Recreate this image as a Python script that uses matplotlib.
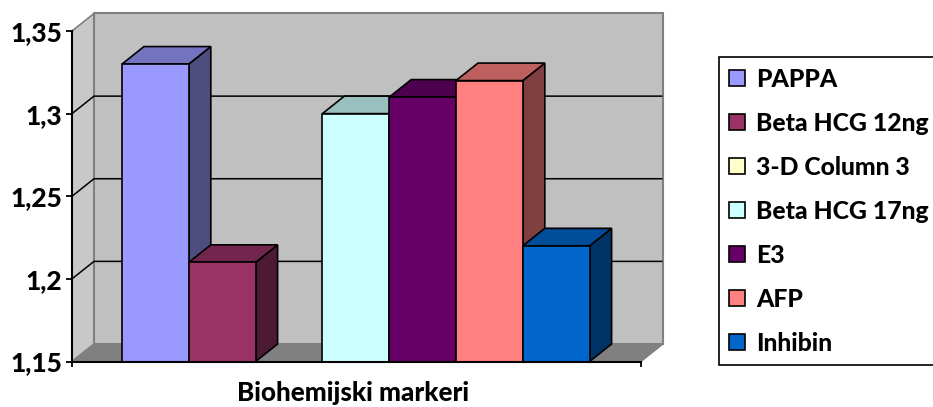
import matplotlib
matplotlib.use("Agg")
import matplotlib.pyplot as plt
from matplotlib.patches import Polygon, Patch
from matplotlib.colors import to_rgb

plt.rcParams['font.family'] = ['Lato', 'DejaVu Sans']

series = ['PAPPA', 'Beta HCG 12ng', '3-D Column 3', 'Beta HCG 17ng', 'E3', 'AFP', 'Inhibin']
values = [1.33, 1.21, None, 1.30, 1.31, 1.32, 1.22]
colors = ['#9999FF', '#993366', '#FFFFCC', '#CCFFFF', '#660066', '#FF8080', '#0066CC']
yticks = [1.15, 1.2, 1.25, 1.3, 1.35]
yticklabels = ['1,15', '1,2', '1,25', '1,3', '1,35']
xlabel = 'Biohemijski markeri'

W, H = 933, 407
fig = plt.figure(figsize=(W/100, H/100), dpi=100, facecolor='white')
L, R, T, B = 72, 641, 31, 361.5
ax = fig.add_axes([L/W, 1-B/H, (R-L)/W, (B-T)/H])
ax.patch.set_alpha(0)

unit = 66.8
y0, y1 = yticks[0], yticks[-1]
ax.set_ylim(y0, y1)
xmin = -50.0/unit
xmax = xmin + (R-L)/unit
ax.set_xlim(xmin, xmax)
dx = 22/unit
dy = 17.5/((B-T)/(y1-y0))

def shade(c, f):
    return tuple(v*f for v in to_rgb(c))

wall = '#C0C0C0'
wall_edge = '#808080'
floor = '#808080'
ax.add_patch(Polygon([(xmin, y0), (xmin, y1), (xmin+dx, y1+dy), (xmin+dx, y0+dy)],
                     closed=True, fc='#C8C8C8', ec=wall_edge, lw=1.2, clip_on=False, zorder=1))
ax.add_patch(Polygon([(xmin+dx, y0+dy), (xmin+dx, y1+dy), (xmax+dx, y1+dy), (xmax+dx, y0+dy)],
                     closed=True, fc=wall, ec=wall_edge, lw=1.5, clip_on=False, zorder=1))
ax.add_patch(Polygon([(xmin, y0), (xmin+dx, y0+dy), (xmax+dx, y0+dy), (xmax, y0)],
                     closed=True, fc=floor, ec=wall_edge, lw=1, clip_on=False, zorder=1.5))
for t in yticks[1:-1]:
    ax.plot([xmin, xmin+dx, xmax+dx-0.02], [t, t+dy, t+dy], color='black', lw=1.1,
            clip_on=False, zorder=2, solid_joinstyle='miter')

handles = []
z = 3
for i, (name, val, col) in enumerate(zip(series, values, colors)):
    handles.append(Patch(fc=col, ec='black', lw=1.2, label=name))
    if val is None:
        continue
    ax.add_patch(Polygon([(i+1, y0), (i+1, val), (i+1+dx, val+dy), (i+1+dx, y0+dy)],
                         closed=True, fc=shade(col, .5), ec='black', lw=1.2, clip_on=False,
                         zorder=z, joinstyle='miter'))
    ax.add_patch(Polygon([(i, val), (i+dx, val+dy), (i+1+dx, val+dy), (i+1, val)],
                         closed=True, fc=shade(col, .75), ec='black', lw=1.2, clip_on=False,
                         zorder=z, joinstyle='miter'))
    ax.bar(i, val-y0, bottom=y0, width=1, align='edge', color=col, edgecolor='black', lw=1.2,
           clip_on=False, zorder=z+.5)
    z += 1

for s in ('top', 'right'):
    ax.spines[s].set_visible(False)
for s in ('left', 'bottom'):
    ax.spines[s].set_linewidth(1.5)
    ax.spines[s].set_zorder(20)

ax.set_yticks(yticks)
ax.set_yticklabels(yticklabels, fontsize=19, fontweight='black')
ax.tick_params(axis='y', length=4, width=1.3, pad=3)
ax.set_xticks([xmin, xmax])
ax.set_xticklabels(['', ''])
ax.tick_params(axis='x', length=3.5, width=1.3)

fig.text(353/W, 1-393/H, xlabel, ha='center', va='center', fontsize=18.7, fontweight='black')

leg = fig.legend(handles=handles, loc='lower left',
                 bbox_to_anchor=(719/W, 1-365/H, 225/W, 309/H), mode='expand',
                 prop={'weight': 'black', 'size': 17.8}, frameon=True, fancybox=False,
                 edgecolor='black', facecolor='white', framealpha=1, handlelength=0.65,
                 handleheight=0.65, handletextpad=0.43, labelspacing=0.85,
                 borderpad=0.42, borderaxespad=0)
leg.get_frame().set_linewidth(1.2)

fig.savefig('out.png', dpi=100)
